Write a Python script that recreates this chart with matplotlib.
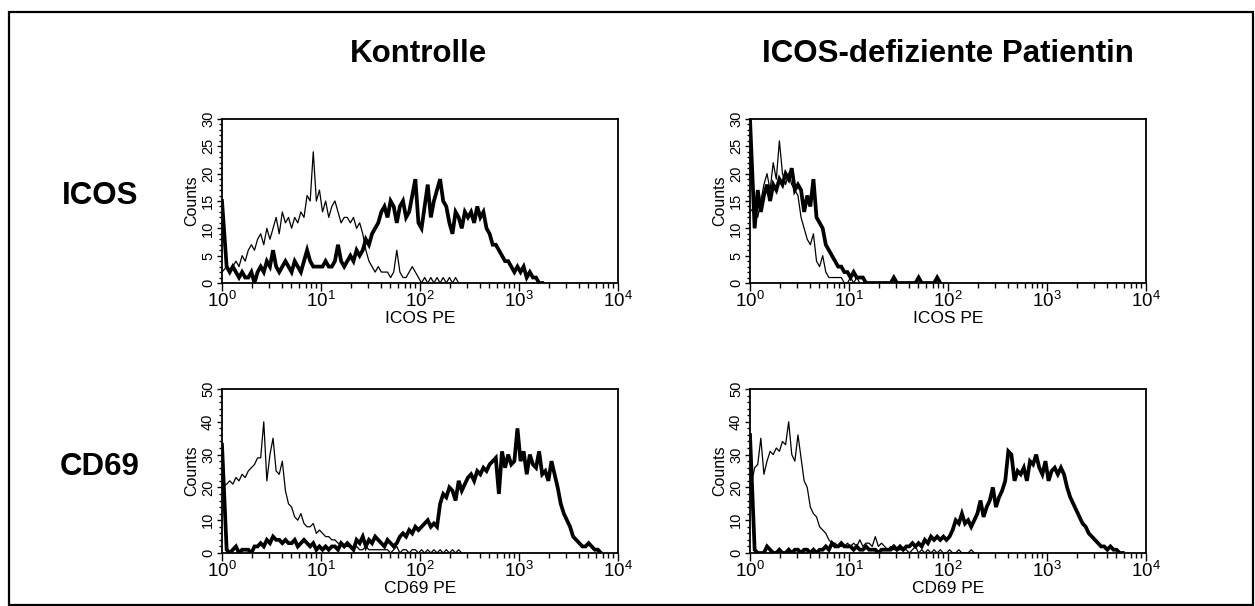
import numpy as np
import matplotlib
matplotlib.use("Agg")
import matplotlib.pyplot as plt
from matplotlib.ticker import LogLocator, NullFormatter, MultipleLocator
from matplotlib.patches import Rectangle

plt.rcParams['font.family'] = ['Liberation Sans', 'DejaVu Sans']
plt.rcParams['mathtext.fontset'] = 'custom'
plt.rcParams['mathtext.rm'] = 'Liberation Sans'

CH_PER_DECADE = 32   # histogram channels per log decade

col_titles = ["Kontrolle", "ICOS-defiziente Patientin"]
row_titles = ["ICOS", "CD69"]
x_labels = ["ICOS PE", "CD69 PE"]
y_max = [30, 50]

# ICOS, Kontrolle: isotype (thin) and ICOS PE (thick)
kontrolle_icos_iso = [2, 3, 2, 3, 4, 3, 5, 4, 6, 7, 6, 8, 9, 7, 10, 8,
                      10, 12, 9, 13, 11, 12, 10, 12, 11, 13, 12, 16, 15, 24, 15, 17,
                      13, 15, 12, 14, 15, 13, 11, 12, 12, 11, 12, 10, 11, 9, 6, 4,
                      3, 2, 3, 2, 2, 2, 1, 2, 6, 2, 1, 1, 2, 3, 2, 1,
                      0, 1, 0, 1, 0, 1, 0, 1, 0, 1, 0, 1, 0]
kontrolle_icos_pe = [15, 3, 2, 3, 2, 1, 2, 1, 1, 2, 0, 2, 3, 2, 4, 3,
                     6, 3, 2, 3, 4, 3, 2, 4, 3, 2, 4, 6, 4, 3, 3, 3,
                     3, 4, 3, 3, 4, 7, 4, 3, 4, 5, 4, 6, 5, 6, 8, 7,
                     9, 10, 11, 13, 14, 12, 15, 14, 11, 14, 15, 12, 13, 16, 19, 11,
                     10, 14, 18, 12, 15, 17, 19, 15, 14, 11, 9, 13, 12, 10, 13, 12,
                     13, 11, 14, 12, 13, 10, 9, 7, 7, 6, 5, 4, 4, 3, 2, 3,
                     2, 3, 1, 2, 1, 1, 0, 0]

# ICOS, Patientin
patientin_icos_iso = [13, 14, 12, 15, 18, 20, 17, 22, 19, 26, 20, 18, 20, 18, 17, 16,
                      12, 10, 8, 7, 9, 4, 3, 5, 2, 1, 1, 1, 1, 1, 0, 0,
                      1, 0, 1, 0, 0]
patientin_icos_pe = [30, 10, 17, 13, 16, 18, 15, 18, 17, 19, 18, 20, 19, 21, 17, 18,
                     17, 13, 16, 14, 19, 12, 11, 10, 7, 6, 5, 4, 3, 3, 2, 2,
                     1, 2, 1, 1, 1, 0, 0, 0, 0, 0, 0, 0, 0, 0, 1, 0,
                     0, 0, 0, 0, 0, 0, 1, 0, 0, 0, 0, 0, 1, 0]

# CD69, Kontrolle
kontrolle_cd69_iso = [20, 21, 22, 21, 23, 22, 24, 23, 25, 26, 27, 29, 29, 40, 22, 30,
                      35, 25, 24, 28, 19, 15, 14, 11, 10, 12, 9, 8, 8, 9, 6, 7,
                      6, 5, 5, 4, 4, 3, 3, 2, 2, 2, 1, 2, 1, 1, 2, 1,
                      1, 1, 1, 1, 1, 1, 0, 1, 2, 0, 1, 1, 0, 1, 1, 0,
                      1, 0, 1, 0, 1, 0, 1, 0, 1, 0, 1, 0, 1, 0]
kontrolle_cd69_pe = [33, 1, 0, 1, 2, 0, 1, 1, 1, 0, 2, 2, 3, 2, 4, 3,
                     5, 4, 4, 3, 4, 3, 3, 4, 2, 3, 4, 3, 2, 3, 1, 2,
                     1, 2, 1, 2, 2, 1, 3, 2, 3, 2, 1, 4, 3, 5, 2, 4,
                     3, 5, 4, 3, 2, 4, 3, 2, 3, 5, 6, 5, 7, 6, 8, 7,
                     8, 9, 10, 8, 9, 8, 15, 18, 17, 20, 19, 16, 22, 19, 21, 23,
                     24, 22, 25, 24, 26, 25, 27, 28, 29, 18, 31, 26, 30, 27, 28, 38,
                     28, 31, 24, 30, 27, 26, 31, 24, 25, 22, 28, 24, 20, 15, 12, 10,
                     8, 5, 4, 3, 2, 2, 3, 2, 1, 1, 0]

# CD69, Patientin
patientin_cd69_iso = [19, 26, 27, 35, 24, 28, 31, 30, 32, 31, 34, 33, 40, 30, 28, 36,
                      29, 22, 20, 14, 12, 11, 8, 7, 6, 4, 3, 3, 2, 2, 2, 3,
                      2, 3, 2, 4, 2, 3, 3, 2, 5, 2, 3, 2, 1, 2, 1, 1,
                      1, 1, 1, 0, 1, 2, 0, 1, 0, 1, 0, 1, 0, 1, 0, 0,
                      1, 0, 0, 1, 0, 0, 0, 1, 0]
patientin_cd69_pe = [36, 1, 0, 0, 0, 2, 1, 0, 0, 1, 0, 0, 1, 0, 1, 1,
                     0, 1, 1, 0, 1, 0, 1, 1, 2, 1, 3, 2, 2, 3, 2, 2,
                     2, 1, 2, 1, 1, 2, 1, 1, 1, 0, 1, 1, 1, 1, 2, 1,
                     2, 1, 2, 2, 3, 2, 3, 2, 4, 3, 5, 4, 5, 4, 5, 4,
                     5, 7, 10, 9, 12, 9, 10, 8, 10, 12, 16, 11, 14, 16, 20, 14,
                     17, 19, 22, 31, 30, 22, 25, 24, 26, 22, 28, 27, 30, 26, 24, 28,
                     22, 25, 26, 24, 26, 24, 20, 17, 15, 13, 11, 9, 8, 6, 5, 4,
                     3, 2, 2, 1, 2, 1, 1, 0, 0]

panels = [
    [(kontrolle_icos_iso, kontrolle_icos_pe), (patientin_icos_iso, patientin_icos_pe)],
    [(kontrolle_cd69_iso, kontrolle_cd69_pe), (patientin_cd69_iso, patientin_cd69_pe)],
]


def channel_values(counts):
    # first channel sits on the left edge, the rest at their bin centres
    x = 10 ** ((np.arange(len(counts)) + 0.5) / CH_PER_DECADE)
    x[0] = 1.0
    return x


fig = plt.figure(figsize=(12.55, 6.06), dpi=100)
W, H = 1255, 606

# outer frame
fig.patches.append(Rectangle((9 / W, 1.5 / H), 1244 / W, (H - 13.5) / H,
                             transform=fig.transFigure, fill=False,
                             edgecolor='black', linewidth=1.6))

col_left = [222, 750]
row_top = [119, 389]
ax_w, ax_h = 396, 164

for r in range(2):
    for c in range(2):
        left = col_left[c] / W
        bottom = 1 - (row_top[r] + ax_h) / H
        ax = fig.add_axes([left, bottom, ax_w / W, ax_h / H])
        iso, pe = panels[r][c]
        ax.plot(channel_values(pe), pe, color='black', linewidth=2.7,
                solid_joinstyle='miter')
        ax.plot(channel_values(iso), iso, color='black', linewidth=0.9)

        ax.set_xscale('log')
        ax.set_xlim(1, 1e4)
        ax.set_ylim(0, y_max[r])
        ax.xaxis.set_major_locator(LogLocator(base=10, numticks=10))
        ax.xaxis.set_minor_locator(LogLocator(base=10, subs=np.arange(2, 10), numticks=10))
        ax.xaxis.set_minor_formatter(NullFormatter())
        if r == 0:
            ax.yaxis.set_major_locator(MultipleLocator(5))
            ax.yaxis.set_minor_locator(MultipleLocator(1))
        else:
            ax.yaxis.set_major_locator(MultipleLocator(10))
            ax.yaxis.set_minor_locator(MultipleLocator(2))

        for sp in ax.spines.values():
            sp.set_linewidth(1.3)
        ax.tick_params(which='both', direction='out', top=False, right=False,
                       width=1.0, colors='black')
        ax.tick_params(axis='x', which='major', length=6)
        ax.tick_params(axis='x', which='minor', length=3.5)
        ax.tick_params(axis='y', which='major', length=3.5)
        ax.tick_params(axis='y', which='minor', length=2.2)
        ax.tick_params(axis='x', labelsize=13.5, pad=0)
        ax.tick_params(axis='y', labelsize=10.5, labelrotation=90, pad=1.5)
        for lab in ax.get_yticklabels():
            lab.set_va('center')
        ax.set_xlabel(x_labels[r], fontsize=12.5, labelpad=0)
        ax.set_ylabel("Counts", fontsize=11.5, labelpad=1)

bold = dict(fontsize=22.5, fontweight='bold', ha='center', va='center')
fig.text(418 / W, 1 - 54 / H, col_titles[0], **bold)
fig.text(948 / W, 1 - 54 / H, col_titles[1], **bold)
fig.text(100 / W, 1 - 196 / H, row_titles[0], **bold)
fig.text(100 / W, 1 - 467 / H, row_titles[1], **bold)

fig.savefig("out.png", dpi=100)
